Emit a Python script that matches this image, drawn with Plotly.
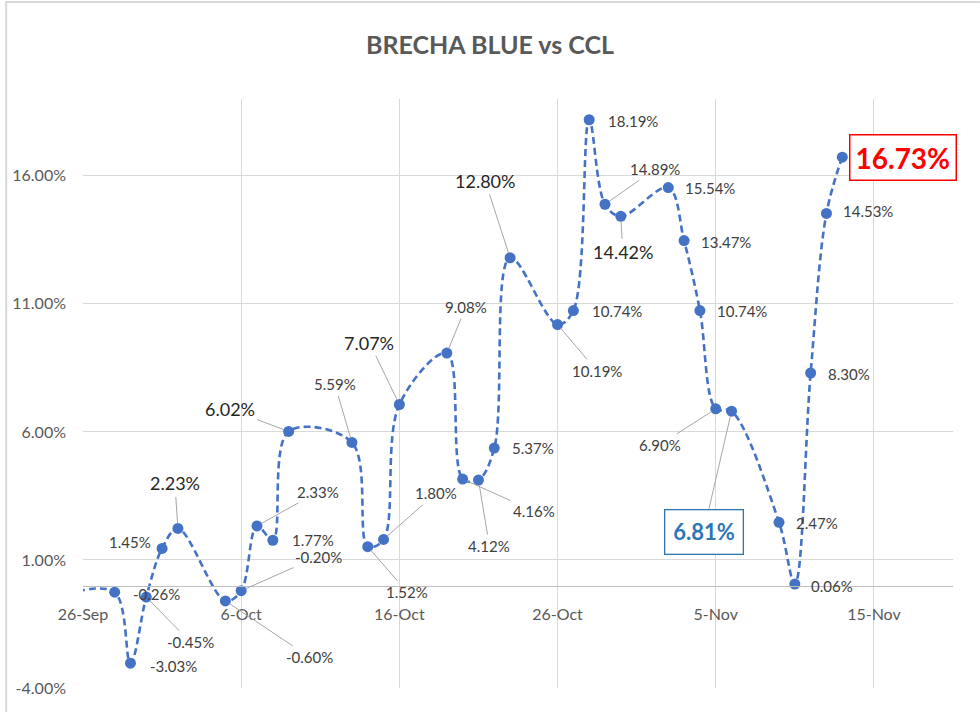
import plotly.graph_objects as go

# ---------------- data ----------------
dates = ["2020-09-25", "2020-09-28", "2020-09-29", "2020-09-30", "2020-10-01", "2020-10-02",
         "2020-10-05", "2020-10-06", "2020-10-07", "2020-10-08", "2020-10-09",
         "2020-10-13", "2020-10-14", "2020-10-15", "2020-10-16",
         "2020-10-19", "2020-10-20", "2020-10-21", "2020-10-22", "2020-10-23",
         "2020-10-26", "2020-10-27", "2020-10-28", "2020-10-29", "2020-10-30",
         "2020-11-02", "2020-11-03", "2020-11-04", "2020-11-05", "2020-11-06",
         "2020-11-09", "2020-11-10", "2020-11-11", "2020-11-12", "2020-11-13"]
brecha = [-0.32, -0.26, -3.03, -0.45, 1.45, 2.23,
          -0.60, -0.20, 2.33, 1.77, 6.02,
          5.59, 1.52, 1.80, 7.07,
          9.08, 4.16, 4.12, 5.37, 12.80,
          10.19, 10.74, 18.19, 14.89, 14.42,
          15.54, 13.47, 10.74, 6.90, 6.81,
          2.47, 0.06, 8.30, 14.53, 16.73]

y_ticks = [-4, 1, 6, 11, 16]
x_ticks = ["2020-09-26", "2020-10-06", "2020-10-16", "2020-10-26", "2020-11-05", "2020-11-15"]

# ---------------- label layout (pixel offsets from marker, leader flag, style) ----------------
label_layout = [
    None,
    (42, 2, False, "n"), (43, 3, False, "n"), (44, 45, True, "n"), (-32, -6, False, "n"), (-3, -45, True, "b"),
    (84, 56, True, "n"), (77, -34, True, "n"), (61, -34, True, "n"), (40, 0, False, "n"), (-59, -22, True, "b"),
    (-17, -58, True, "n"), (39, 45, True, "n"), (52, -46, True, "n"), (-30, -62, True, "b"),
    (19, -46, True, "n"), (71, 32, True, "n"), (11, 66, True, "n"), (39, 0, False, "n"), (-25, -77, True, "b"),
    (39, 46, True, "n"), (44, 0, False, "n"), (44, 1, False, "n"), (50, -35, True, "n"), (2, 36, True, "b"),
    (42, 0, False, "n"), (42, 1, False, "n"), (42, 0, False, "n"), (-56, 36, True, "n"), (-28, 121, True, "blue"),
    (38, 1, False, "n"), (37, 2, False, "n"), (38, 1, False, "n"), (42, -2, False, "n"), (61, 0, False, "red"),
]

FONT = "Lato"
BLUE = "#4472C4"
y_range = [-4, 19]
x_range = ["2020-09-26", "2020-11-20"]

fig = go.Figure()
fig.add_trace(go.Scatter(
    x=dates, y=brecha, mode="lines+markers",
    line=dict(color=BLUE, width=2.6, dash="7px,4px", shape="spline", smoothing=1),
    marker=dict(color=BLUE, size=11),
    hoverinfo="skip", showlegend=False,
))

styles = {
    "n": dict(font=dict(family=FONT, size=15, color="#404040")),
    "b": dict(font=dict(family=FONT, size=18, color="#262626")),
    "blue": dict(font=dict(family=FONT, size=22, color="#2E75B6", weight="bold"),
                 bordercolor="#2E75B6", borderwidth=1.3, borderpad=8, bgcolor="white"),
    "red": dict(font=dict(family=FONT, size=28, color="#FF0000", weight="bold"),
                bordercolor="#FF0000", borderwidth=1.5, borderpad=5, bgcolor="white"),
}

annotations = []
for d, v, lay in zip(dates, brecha, label_layout):
    if lay is None:
        continue
    dx, dy, leader, st = lay
    a = dict(x=d, y=v, xref="x", yref="y", text=f"{v:.2f}%", **styles[st])
    if leader:
        a.update(showarrow=True, ax=dx, ay=dy, arrowhead=0, arrowwidth=1,
                 arrowcolor="#A6A6A6", standoff=5, startstandoff=1)
    else:
        a.update(showarrow=False, xshift=dx, yshift=-dy)
    annotations.append(a)

zero_pos = (0 - y_range[0]) / (y_range[1] - y_range[0])

fig.update_layout(
    width=980, height=712,
    margin=dict(l=81, r=27, t=99, b=24),
    paper_bgcolor="white", plot_bgcolor="white",
    title=dict(text="<b>BRECHA BLUE vs CCL</b>", x=0.5, xanchor="center", y=1 - 45 / 712, yanchor="middle",
               font=dict(family=FONT, size=25, color="#595959")),
    xaxis=dict(
        type="date", range=x_range, tickvals=x_ticks, tickformat="%-d-%b",
        showgrid=True, gridcolor="#D9D9D9", gridwidth=1,
        showline=True, linecolor="#BFBFBF", linewidth=1,
        anchor="free", position=zero_pos, ticks="", ticklabelstandoff=14,
        tickfont=dict(family=FONT, size=16, color="#595959"),
        zeroline=False,
    ),
    yaxis=dict(
        range=y_range, tickvals=y_ticks, ticktext=[f"{t:.2f}%" for t in y_ticks],
        showgrid=True, gridcolor="#D9D9D9", gridwidth=1, zeroline=False,
        showline=False, ticks="", ticklabelstandoff=16,
        tickfont=dict(family=FONT, size=16, color="#595959"),
    ),
    shapes=[
        dict(type="line", xref="paper", yref="paper", x0=-77 / 872, x1=-77 / 872, y0=-24 / 589, y1=1 + 98 / 589,
             line=dict(color="#D9D9D9", width=2)),
        dict(type="line", xref="paper", yref="paper", x0=-77 / 872, x1=1 + 27 / 872, y0=1 + 97 / 589, y1=1 + 97 / 589,
             line=dict(color="#D9D9D9", width=2)),
    ],
    annotations=annotations,
)

fig.write_html("out.html")
